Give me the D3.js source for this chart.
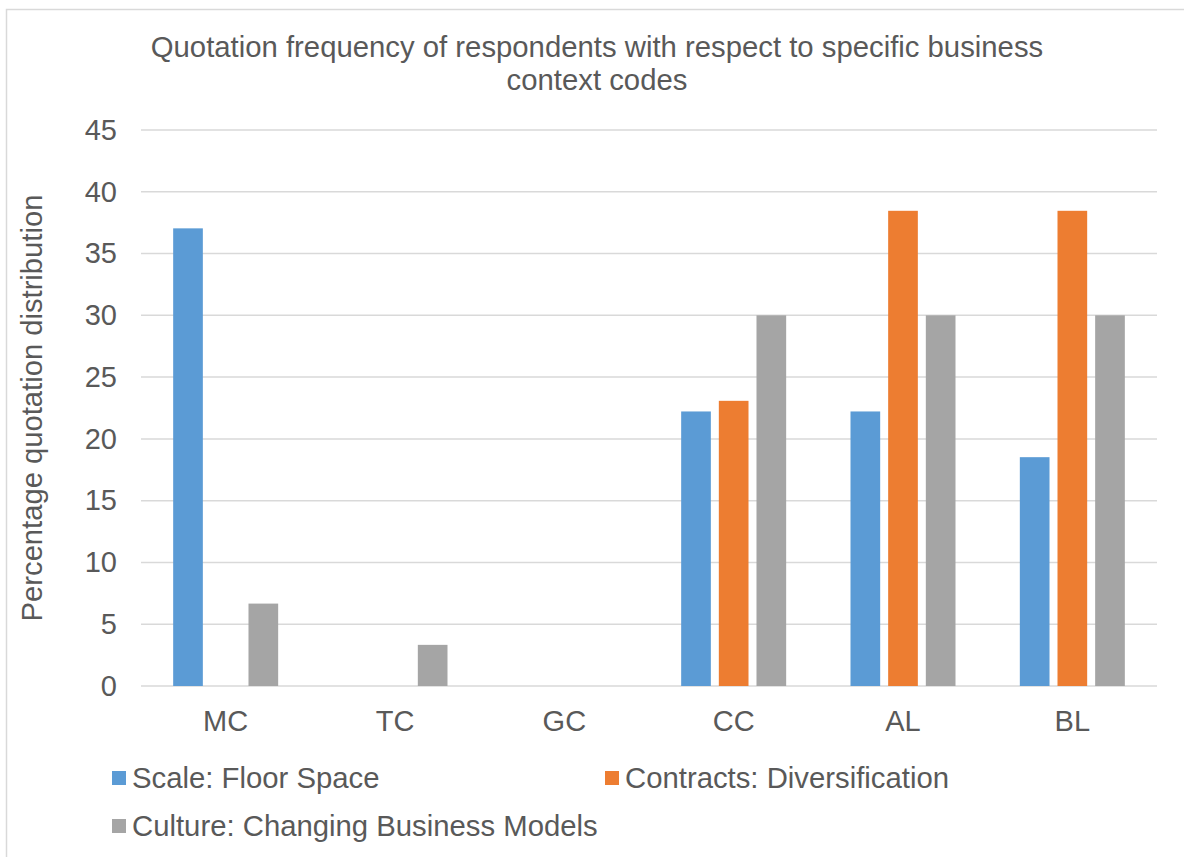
<!DOCTYPE html>
<html>
<head>
<meta charset="utf-8">
<script src="https://cdn.jsdelivr.net/npm/d3@7"></script>
<style>
  body { margin: 0; background: #fff; }
  text { font-family: "Liberation Sans", Arial, sans-serif; fill: #595959; }
</style>
</head>
<body>
<script>
const categories = ["MC", "TC", "GC", "CC", "AL", "BL"];
const seriesNames = ["Scale: Floor Space", "Contracts: Diversification", "Culture: Changing Business Models"];
const seriesColors = ["#5b9bd5", "#ed7d31", "#a5a5a5"];
const scaleFloor = [37.04, 0, 0, 22.22, 22.22, 18.52];
const contractsDiv = [0, 0, 0, 23.08, 38.46, 38.46];
const cultureModels = [6.67, 3.33, 0, 30, 30, 30];
const yTicks = [0, 5, 10, 15, 20, 25, 30, 35, 40, 45];

const values = [scaleFloor, contractsDiv, cultureModels];

const W = 1184, H = 857;
const margin = {top: 130, right: 27, bottom: 171, left: 141};
const width = W - margin.left - margin.right, height = H - margin.top - margin.bottom;

const root = d3.select('body').append('svg')
    .attr('width', W)
    .attr('height', H);

// chart border
root.append('rect')
    .attr('x', 6.5).attr('y', 9.5)
    .attr('width', W).attr('height', H)
    .attr('fill', 'none')
    .attr('stroke', '#d9d9d9')
    .attr('stroke-width', 1.5);

// title
root.append('text')
    .attr('x', 597).attr('y', 57)
    .attr('text-anchor', 'middle')
    .style('font-size', '29.3px')
    .selectAll('tspan')
    .data(["Quotation frequency of respondents with respect to specific business", "context codes"])
    .enter().append('tspan')
    .attr('x', 597)
    .attr('dy', (d, i) => i === 0 ? 0 : 33)
    .text(d => d);

const svg = root.append('g')
    .attr('transform', `translate(${margin.left}, ${margin.top})`);

const yScale = d3.scaleLinear().domain([0, 45]).range([height, 0]);
const xScale = d3.scaleBand().domain(categories).range([0, width]);
const inner = d3.scaleBand().domain(d3.range(3))
    .range([xScale.bandwidth() / 2 - 52.5, xScale.bandwidth() / 2 + 52.5])
    .paddingInner(0.212);

// gridlines
svg.append('g')
    .selectAll('line')
    .data(yTicks)
    .enter().append('line')
    .attr('x1', 0).attr('x2', width)
    .attr('y1', d => yScale(d)).attr('y2', d => yScale(d))
    .attr('stroke', '#d9d9d9')
    .attr('stroke-width', 1.5);

// y axis labels
const yAxis = d3.axisLeft(yScale).tickValues(yTicks).tickSize(0).tickPadding(24);
svg.append('g')
    .call(yAxis)
    .call(g => g.select('.domain').remove())
    .selectAll('text')
    .style('font-size', '29px')
    .attr('fill', '#595959');

// x axis labels
const xAxis = d3.axisBottom(xScale).tickSize(0).tickPadding(24);
svg.append('g')
    .attr('transform', `translate(0, ${height})`)
    .call(xAxis)
    .call(g => g.select('.domain').remove())
    .selectAll('text')
    .style('font-size', '29px')
    .attr('fill', '#595959');

// bars
values.forEach((vals, s) => {
    svg.append('g')
        .selectAll('rect')
        .data(vals.map((v, i) => ({cat: categories[i], v})).filter(d => d.v > 0))
        .enter().append('rect')
        .attr('fill', seriesColors[s])
        .attr('x', d => xScale(d.cat) + inner(s))
        .attr('width', inner.bandwidth())
        .attr('y', d => yScale(d.v))
        .attr('height', d => height - yScale(d.v));
});

// y axis title
root.append('text')
    .attr('transform', `translate(42, ${margin.top + height / 2}) rotate(-90)`)
    .attr('text-anchor', 'middle')
    .style('font-size', '29.2px')
    .text('Percentage quotation distribution');

// legend
const legendPos = [[112, 778], [605, 778], [112, 826]];
const legend = root.append('g')
    .selectAll('g')
    .data(seriesNames)
    .enter().append('g')
    .attr('transform', (d, i) => `translate(${legendPos[i][0]}, ${legendPos[i][1]})`);
legend.append('rect')
    .attr('x', 0).attr('y', -7)
    .attr('width', 14).attr('height', 14)
    .attr('fill', (d, i) => seriesColors[i]);
legend.append('text')
    .attr('x', 20).attr('y', 10)
    .style('font-size', '29.3px')
    .text(d => d);
</script>
</body>
</html>
